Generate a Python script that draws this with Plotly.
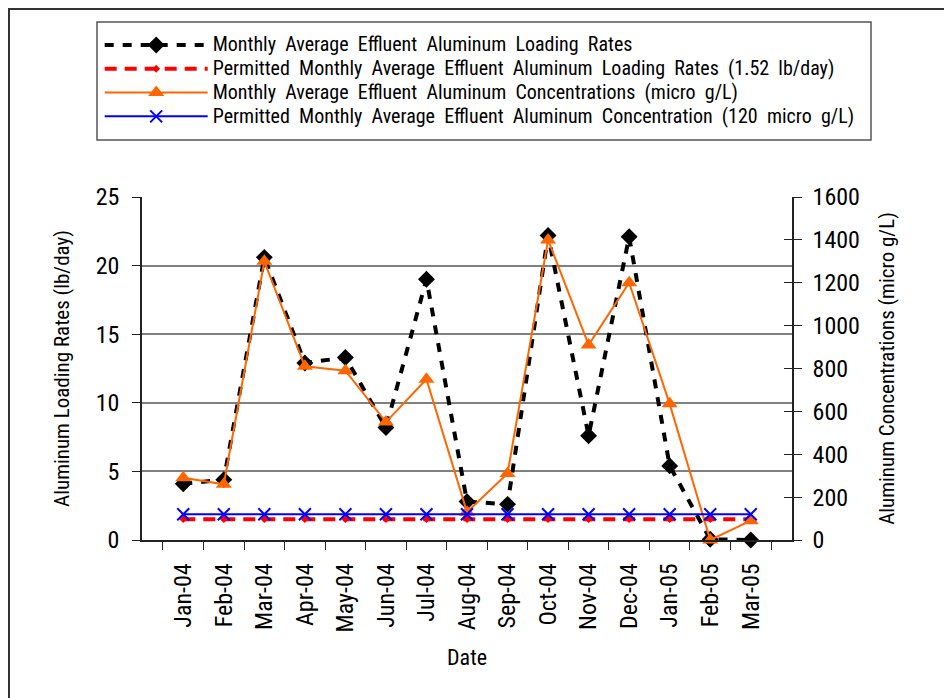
import plotly.graph_objects as go

months = ["Jan-04", "Feb-04", "Mar-04", "Apr-04", "May-04", "Jun-04", "Jul-04",
          "Aug-04", "Sep-04", "Oct-04", "Nov-04", "Dec-04", "Jan-05", "Feb-05", "Mar-05"]
loading = [4.1, 4.4, 20.6, 12.9, 13.3, 8.2, 19.0, 2.8, 2.6, 22.2, 7.6, 22.1, 5.4, 0.05, 0.0]
permitted_loading = [1.52] * 15
concentration = [290, 260, 1300, 810, 790, 550, 750, 130, 310, 1400, 910, 1200, 635, 0, 90]
permitted_conc = [120] * 15

names = [
    "Monthly  Average  Effluent  Aluminum  Loading  Rates",
    "Permitted  Monthly  Average  Effluent  Aluminum  Loading  Rates  (1.52  lb/day)",
    "Monthly  Average  Effluent  Aluminum  Concentrations  (micro  g/L)",
    "Permitted  Monthly  Average  Effluent  Aluminum  Concentration  (120  micro  g/L)",
]
legend_names = ['<span style="font-size:20px">%s</span>' % n for n in names]

FONT = "Roboto Condensed, Liberation Sans, Arial, sans-serif"
AX = "#222222"

fig = go.Figure()
fig.add_trace(go.Scatter(
    x=months, y=loading, name=legend_names[0], mode="lines+markers", yaxis="y",
    line=dict(color="black", width=4, dash="9px,9px"),
    marker=dict(symbol="diamond", size=13, color="black"), cliponaxis=False))
fig.add_trace(go.Scatter(
    x=months, y=permitted_loading, name=legend_names[1], mode="lines+markers", yaxis="y",
    line=dict(color="#FF0000", width=4, dash="12px,8px"),
    marker=dict(symbol="diamond", size=6, color="#FF0000"), cliponaxis=False))
fig.add_trace(go.Scatter(
    x=months, y=concentration, name=legend_names[2], mode="lines+markers", yaxis="y2",
    line=dict(color="#FF6600", width=2),
    marker=dict(symbol="triangle-up", size=14, color="#FF6600"), cliponaxis=False))
fig.add_trace(go.Scatter(
    x=months, y=permitted_conc, name=legend_names[3], mode="lines+markers", yaxis="y2",
    line=dict(color="#0000FF", width=2),
    marker=dict(symbol="x-thin", size=12, color="#0000FF",
                line=dict(color="#0000FF", width=2)), cliponaxis=False))
# invisible carrier so the inner tick marks of the right axis get drawn
fig.add_trace(go.Scatter(
    x=months, y=permitted_conc, yaxis="y3", mode="none", showlegend=False, hoverinfo="skip"))

fig.update_layout(
    width=952, height=698,
    margin=dict(l=134, r=168, t=189, b=166),
    paper_bgcolor="white", plot_bgcolor="white",
    font=dict(family=FONT, size=24, color="black"),
    showlegend=True,
    legend=dict(x=-0.0651, y=1.4925, xanchor="left", yanchor="top",
                font=dict(size=16), itemwidth=103, tracegroupgap=0,
                bgcolor="rgba(0,0,0,0)", borderwidth=0, traceorder="normal"),
    xaxis=dict(type="category", showline=True, linecolor=AX, linewidth=1.5,
               ticks="outside", ticklen=8, tickcolor=AX, tickson="boundaries",
               tickangle=-90, showgrid=False, zeroline=False, ticklabelstandoff=12,
               tickfont=dict(size=24),
               title=dict(text="Date", font=dict(size=22), standoff=18)),
    yaxis=dict(range=[0, 25], dtick=5, showline=True, linecolor=AX, linewidth=1.5,
               ticks="outside", ticklen=8, tickcolor=AX, ticklabelstandoff=8,
               tickfont=dict(size=24),
               showgrid=True, gridcolor="#808080", gridwidth=1.5, zeroline=False,
               title=dict(text="Aluminum Loading Rates (lb/day)", font=dict(size=21), standoff=20)),
    yaxis2=dict(range=[0, 1600], dtick=200, overlaying="y", side="right",
                showline=True, linecolor=AX, linewidth=1.5,
                ticks="outside", ticklen=8, tickcolor=AX, ticklabelstandoff=6,
                tickfont=dict(size=24), showgrid=False, zeroline=False,
                title=dict(text="Aluminum Concentrations (micro g/L)", font=dict(size=21), standoff=20)),
    yaxis3=dict(range=[0, 1600], dtick=200, overlaying="y", side="right",
                showline=False, ticks="inside", ticklen=8, tickcolor=AX, tickwidth=1,
                showticklabels=False, showgrid=False, zeroline=False),
    shapes=[
        dict(type="rect", xref="paper", yref="paper", x0=(97 - 142) / 650, x1=(871 - 142) / 650,
             y0=(540 - 140) / 343, y1=(540 - 22) / 343, line=dict(color="#555555", width=1.5)),
        dict(type="rect", xref="paper", yref="paper", x0=(1 - 134) / 650, x1=2.0,
             y0=-2.0, y1=(532 - 1) / 343, line=dict(color="#333333", width=2)),
    ],
)

fig.write_html("out.html")
